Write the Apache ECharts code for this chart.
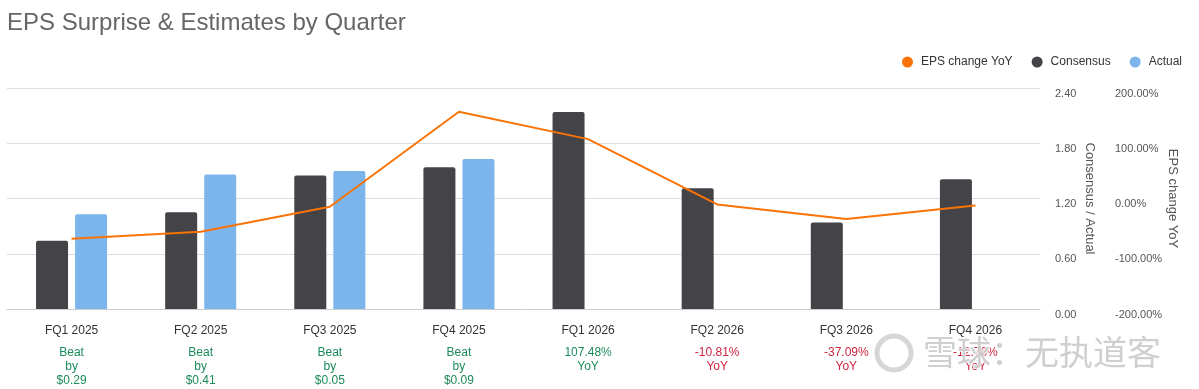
<!DOCTYPE html>
<html>
<head>
<meta charset="utf-8">
<script src="https://cdn.jsdelivr.net/npm/echarts@6/dist/echarts.min.js"></script>
<style>
html,body{margin:0;padding:0;background:#fff;}
#chart{width:1199px;height:389px;}
</style>
</head>
<body>
<div id="chart"></div>
<script>
var categories = ['FQ1 2025','FQ2 2025','FQ3 2025','FQ4 2025','FQ1 2026','FQ2 2026','FQ3 2026','FQ4 2026'];
var consensus = [0.74, 1.05, 1.45, 1.54, 2.14, 1.31, 0.94, 1.41];
var actual = [1.03, 1.46, 1.50, 1.63, null, null, null, null];
var epsYoY = [-73, -60, -15, 157, 107.48, -10.81, -37.09, -12.76];
var noteLines = [
  ['Beat','by','$0.29'],
  ['Beat','by','$0.41'],
  ['Beat','by','$0.05'],
  ['Beat','by','$0.09'],
  ['107.48%','YoY'],
  ['-10.81%','YoY'],
  ['-37.09%','YoY'],
  ['-12.76%','YoY']
];
var noteKinds = ['g','g','g','g','g','r','r','r'];
var leftTicks = [0, 0.6, 1.2, 1.8, 2.4];
var rightTicks = [-200, -100, 0, 100, 200];

var chart = echarts.init(document.getElementById('chart'));
var FONT = 'Arial, "Liberation Sans", sans-serif';
chart.setOption({
  animation: false,
  textStyle: {fontFamily: FONT},
  title: {
    text: 'EPS Surprise & Estimates by Quarter',
    left: 2, top: 6,
    textStyle: {fontFamily: FONT, fontSize: 24, fontWeight: 'normal', color: '#666666'}
  },
  legend: {
    data: ['EPS change YoY','Consensus','Actual'],
    right: 12, top: 51,
    icon: 'circle', itemWidth: 11, itemHeight: 11, itemGap: 19,
    textStyle: {fontFamily: FONT, fontSize: 12, color: '#333333', padding: [0,0,0,3]}
  },
  grid: {left: 7, right: 159, top: 88, bottom: 80},
  xAxis: {
    type: 'category',
    data: categories,
    axisTick: {show: false},
    axisLine: {lineStyle: {color: '#cccccc'}},
    axisLabel: {
      interval: 0,
      margin: 14,
      formatter: function (v, i) {
        var k = noteKinds[i];
        var s = '{c|' + v + '}\n{s| }';
        noteLines[i].forEach(function (t) { s += '\n{' + k + '|' + t + '}'; });
        return s;
      },
      rich: {
        c: {fontFamily: FONT, fontSize: 12, color: '#333333', lineHeight: 16},
        s: {fontSize: 1, lineHeight: 7},
        g: {fontFamily: FONT, fontSize: 12, color: '#1b8a5a', lineHeight: 14},
        r: {fontFamily: FONT, fontSize: 12, color: '#d0243f', lineHeight: 14}
      }
    }
  },
  yAxis: [
    {
      type: 'value', position: 'right',
      min: leftTicks[0], max: leftTicks[leftTicks.length-1], interval: 0.6,
      name: 'Consensus / Actual', nameLocation: 'middle', nameRotate: -90, nameGap: 43,
      nameMoveOverlap: false,
      nameTextStyle: {fontFamily: FONT, fontSize: 13, color: '#555555'},
      axisLine: {show: false}, axisTick: {show: false},
      axisLabel: {margin: 15, fontSize: 11, color: '#555555', verticalAlign: 'top',
        formatter: function (v) { return v.toFixed(2); }},
      splitLine: {lineStyle: {color: '#dddddd'}}
    },
    {
      type: 'value', position: 'right', offset: 60,
      min: rightTicks[0], max: rightTicks[rightTicks.length-1], interval: 100,
      name: 'EPS change YoY', nameLocation: 'middle', nameRotate: -90, nameGap: 66,
      nameMoveOverlap: false,
      nameTextStyle: {fontFamily: FONT, fontSize: 13, color: '#555555'},
      axisLine: {show: false}, axisTick: {show: false},
      axisLabel: {margin: 15, fontSize: 11, color: '#555555', verticalAlign: 'top',
        formatter: function (v) { return v.toFixed(2) + '%'; }},
      splitLine: {show: false}
    }
  ],
  series: [
    {
      name: 'Consensus', type: 'bar', yAxisIndex: 0,
      data: consensus, barWidth: 32, barGap: '22%',
      itemStyle: {color: '#444348', borderRadius: [2,2,0,0]}
    },
    {
      name: 'Actual', type: 'bar', yAxisIndex: 0,
      data: actual, barWidth: 32,
      itemStyle: {color: '#7cb5ec', borderRadius: [2,2,0,0]}
    },
    {
      name: 'EPS change YoY', type: 'line', yAxisIndex: 1,
      data: epsYoY, showSymbol: false, symbol: 'circle', z: 5,
      itemStyle: {color: '#fa7306'},
      lineStyle: {color: '#fa7306', width: 2}
    }
  ],
  graphic: [
    {
      type: 'text', left: 922, top: 334, z: 100, silent: true,
      style: {text: '雪球：无执道客', fontFamily: '"Noto Sans CJK SC", sans-serif', fontSize: 34,
        fill: 'rgba(195,195,195,0.8)', stroke: 'rgba(255,255,255,0.8)', lineWidth: 2}
    },
    {
      type: 'circle', shape: {cx: 894, cy: 353, r: 17}, z: 100, silent: true,
      style: {fill: 'none', stroke: 'rgba(200,200,200,0.75)', lineWidth: 5}
    }
  ]
});
</script>
</body>
</html>
